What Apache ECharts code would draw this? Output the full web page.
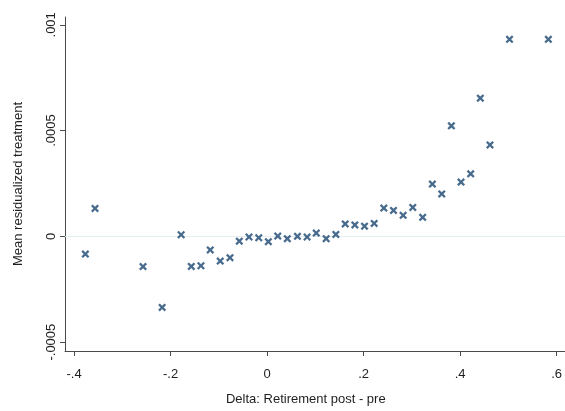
<!DOCTYPE html>
<html>
<head>
<meta charset="utf-8">
<script src="https://cdn.jsdelivr.net/npm/echarts@6/dist/echarts.min.js"></script>
<style>
  html, body { margin: 0; padding: 0; background: #ffffff; }
  #chart { width: 565px; height: 411px; }
</style>
</head>
<body>
<div id="chart"></div>
<script>
// Binned means: change in retirement (post - pre) vs. mean residualized treatment
const deltaBins = [
  -0.3765, -0.3565, -0.257, -0.2174, -0.178, -0.157, -0.137, -0.1177, -0.097, -0.0768,
  -0.0575, -0.0374, -0.0172, 0.0027, 0.0222, 0.042, 0.063, 0.083, 0.102, 0.1225,
  0.1426, 0.162, 0.182, 0.202, 0.222, 0.242, 0.262, 0.282, 0.302, 0.3225,
  0.3426, 0.362, 0.382, 0.402, 0.422, 0.442, 0.462, 0.5025, 0.583
];
const meanResidTreatment = [
  -0.000084, 0.000132, -0.000143, -0.000336, 0.0000075, -0.000142, -0.000139, -0.000064, -0.000117, -0.000101,
  -0.000023, -0.000003, -0.0000065, -0.000025, 0.0000014, -0.000011, 0.0, -0.000003, 0.0000154, -0.000011,
  0.0000093, 0.0000588, 0.0000541, 0.0000481, 0.0000611, 0.0001335, 0.0001227, 0.0000994, 0.0001367, 0.0000901,
  0.0002473, 0.0002007, 0.0005226, 0.0002567, 0.0002954, 0.0006533, 0.0004321, 0.0009314, 0.0009314
];
const xTicks = [-0.4, -0.2, 0, 0.2, 0.4, 0.6];
const yTicks = [-0.0005, 0, 0.0005, 0.001];

// Stata-style numbers: drop the leading zero (".5", "-.0005")
function stataNum(v) {
  if (Math.abs(v) < 1e-12) return '0';
  const s = String(+v.toPrecision(6));
  return s.replace(/^(-?)0\./, '$1.');
}

const points = deltaBins.map((x, i) => [x, meanResidTreatment[i]]);
// bold "x" marker
const xMark = 'path://M0,2L2,0L5,3L8,0L10,2L7,5L10,8L8,10L5,7L2,10L0,8L3,5Z';
const font = '"Liberation Sans", Arial, sans-serif';
const textCol = '#1e1e1e';
const axisCol = '#4a4a4a';

const chart = echarts.init(document.getElementById('chart'), null, { renderer: 'canvas' });
chart.setOption({
  animation: false,
  backgroundColor: '#ffffff',
  grid: { left: 65, top: 17, right: 0, bottom: 56, containLabel: false },
  xAxis: {
    type: 'value',
    min: -0.4187,
    max: 0.6166,
    name: 'Delta: Retirement post - pre',
    nameLocation: 'middle',
    nameGap: 42,
    nameTextStyle: { fontFamily: font, fontSize: 13, color: textCol, padding: [0, 18, 0, 0] },
    axisLine: { onZero: false, lineStyle: { color: axisCol, width: 1 } },
    axisTick: { show: true, length: 5, customValues: xTicks, lineStyle: { color: axisCol } },
    axisLabel: {
      customValues: xTicks,
      formatter: v => stataNum(v),
      fontFamily: font, fontSize: 13, color: textCol, margin: 17
    },
    splitLine: { show: false }
  },
  yAxis: {
    type: 'value',
    min: -0.000542,
    max: 0.001037,
    name: 'Mean residualized treatment',
    nameLocation: 'middle',
    nameGap: 40,
    nameTextStyle: { fontFamily: font, fontSize: 13, color: textCol },
    axisLine: { show: true, onZero: false, lineStyle: { color: axisCol, width: 1 } },
    axisTick: { show: true, length: 5, customValues: yTicks, lineStyle: { color: axisCol } },
    axisLabel: {
      customValues: yTicks,
      rotate: 90,
      formatter: v => stataNum(v),
      fontFamily: font, fontSize: 13, color: textCol, margin: 7
    },
    splitLine: { show: false }
  },
  series: [{
    type: 'scatter',
    data: points,
    symbol: xMark,
    symbolSize: 8,
    itemStyle: { color: '#1a4670' },
    z: 3,
    markLine: {
      silent: true,
      symbol: ['none', 'none'],
      label: { show: false },
      lineStyle: { color: '#e4edf0', width: 1.2, type: 'solid' },
      z: 1,
      data: yTicks.map(v => ({ yAxis: v }))
    }
  }]
});
</script>
</body>
</html>
